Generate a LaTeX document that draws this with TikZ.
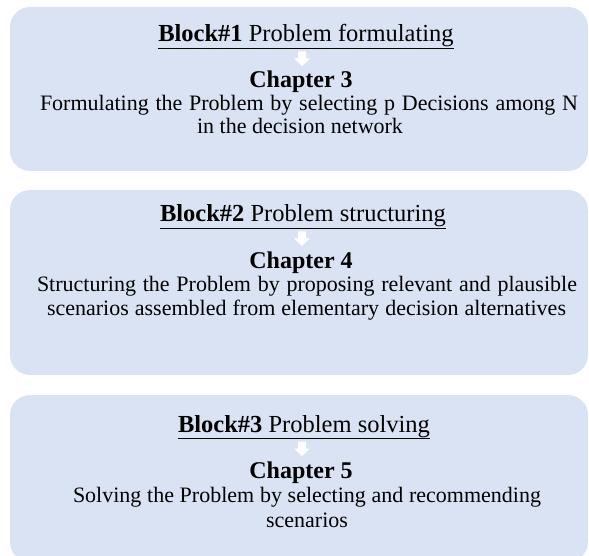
\documentclass[tikz,border=0pt]{standalone}
\usepackage{fontspec}
\setmainfont{Liberation Serif}
\definecolor{boxfill}{HTML}{DAE3F3}
\begin{document}
\begin{tikzpicture}[x=1pt,y=-1pt,
  blockbox/.style={fill=boxfill,draw=none,rounded corners=20pt},
  headtext/.style={anchor=base,inner sep=0pt,font=\fontsize{24.5}{27}\selectfont},
  chaptext/.style={anchor=base,inner sep=0pt,font=\fontsize{24}{27}\selectfont\bfseries},
  bodytext/.style={anchor=base,inner sep=0pt,font=\fontsize{22}{24}\selectfont},
  downarr/.pic={\fill[white] (-4,-7) -- (4,-7) -- (4,0) -- (8,0) -- (0,7.5) -- (-8,0) -- (-4,0) -- cycle;}]
\useasboundingbox (0,0) rectangle (589,556);
\clip (0,0) rectangle (589,556);
% boxes
\path[blockbox] (10,7) rectangle (588,171);
\path[blockbox] (10,190) rectangle (588,375);
\path[blockbox] (10,395) rectangle (588,562);
% block 1
\node[headtext] (h1) at (306,42) {\underline{\textbf{Block\#1} Problem formulating}};
\pic at (302,58.5) {downarr};
\node[chaptext] (c1) at (301,88) {Chapter 3};
\node[bodytext] (l1a) at (309,111) {\makebox[538pt][s]{Formulating the Problem by selecting p Decisions among N}};
\node[bodytext] (l1b) at (300,134) {in the decision network};
% block 2
\node[headtext] (h2) at (303,222) {\underline{\textbf{Block\#2} Problem structuring}};
\pic at (302,238.5) {downarr};
\node[chaptext] (c2) at (301,268) {Chapter 4};
\node[bodytext] (l2a) at (307,291) {\makebox[540pt][s]{Structuring the Problem by proposing relevant and plausible}};
\node[bodytext] (l2b) at (306.5,315) {\makebox[519pt][s]{scenarios assembled from elementary decision alternatives}};
% block 3
\node[headtext] (h3) at (304,432) {\underline{\textbf{Block\#3} Problem solving}};
\pic at (302,448.5) {downarr};
\node[chaptext] (c3) at (301,478) {Chapter 5};
\node[bodytext] (l3a) at (307,502) {\makebox[468pt][s]{Solving the Problem by selecting and recommending}};
\node[bodytext] (l3b) at (307,527) {scenarios};
\end{tikzpicture}
\end{document}
